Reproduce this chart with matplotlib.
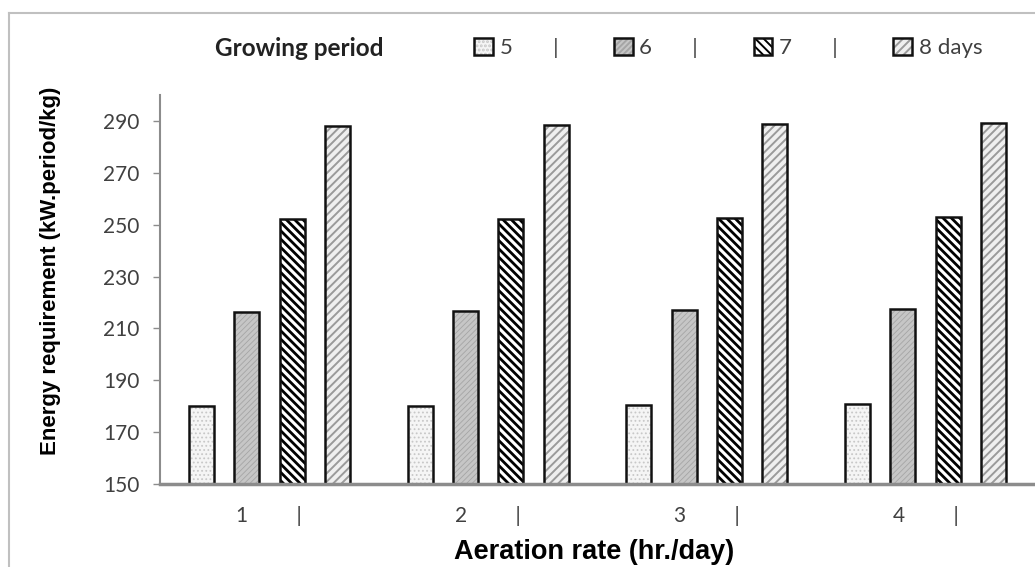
import numpy as np
import matplotlib.pyplot as plt
from matplotlib.lines import Line2D

# aeration rate (hr./day) groups and growing periods
rates = ['1', '2', '3', '4']
periods = ['5', '6', '7', '8 days']

# energy requirement (kW.period/kg)
days5 = [180.0, 180.2, 180.6, 180.9]
days6 = [216.5, 216.6, 217.0, 217.4]
days7 = [252.0, 252.2, 252.6, 253.0]
days8 = [288.2, 288.4, 288.8, 289.2]

yticks = [150, 170, 190, 210, 230, 250, 270, 290]

# face, hatch, hatch colour, hatch width
styles = [
    ('#f5f5f5', '....', '#c8c8c8', 0.8),
    ('#c6c6c6', '//////', '#a5a5a5', 0.6),
    ('white', '\\\\\\\\', 'black', 2.0),
    ('#efefef', '////', '#9a9a9a', 1.4),
]

W, H = 1035, 567
fig = plt.figure(figsize=(W / 100, H / 100), dpi=100)
ax = fig.add_axes([160 / W, 83 / H, 875 / W, 389 / H])

x = np.arange(len(rates))
offsets = np.array([-1.5, -0.5, 0.5, 1.5]) * 0.2075
width = 0.114

handles = []
for vals, off, (fc, hatch, hc, hlw) in zip([days5, days6, days7, days8], offsets, styles):
    plt.rcParams['hatch.linewidth'] = hlw
    b1 = ax.bar(x + off, vals, width, bottom=0, color=fc, hatch=hatch,
                edgecolor=hc, linewidth=0, zorder=2)
    for p in b1:
        if hasattr(p, 'set_hatch_linewidth'):
            p.set_hatch_linewidth(hlw)
    b2 = ax.bar(x + off, vals, width, fill=False, edgecolor='#111111',
                linewidth=1.8, zorder=3)
    handles.append((b1[0], b2[0]))

ax.set_xlim(-0.5, 3.5)
ax.set_ylim(150, 300)
ax.set_yticks(yticks)
ax.set_yticklabels([str(t) for t in yticks], family='Lato', fontsize=15, color='#404040')
ax.set_xticks(x)
ax.set_xticklabels([r + ' ' * 9 + '|' for r in rates], family='Lato', fontsize=15, color='#404040')

ax.tick_params(axis='x', length=0, pad=16)
ax.tick_params(axis='y', length=5, width=1, color='#8c8c8c', pad=10, direction='out')
for s in ['top', 'right']:
    ax.spines[s].set_visible(False)
ax.spines['left'].set_color('#8c8c8c')
ax.spines['left'].set_linewidth(1.5)
ax.spines['bottom'].set_color('#8c8c8c')
ax.spines['bottom'].set_linewidth(2.5)
ax.spines['bottom'].set_zorder(4)

fig.text(51 / W, 1 - 271 / H, 'Energy requirement (kW.period/kg)', rotation=90,
         ha='center', va='center', family='Liberation Sans', fontweight='bold', fontsize=16)
fig.text(594 / W, 1 - 552 / H, 'Aeration rate (hr./day)', ha='center', va='center',
         family='Liberation Sans', fontweight='bold', fontsize=19.5)

fig.text(215 / W, 1 - 48 / H, 'Growing period', ha='left', va='center',
         family='Lato', fontweight='bold', fontsize=17.5, color='#222222')

labels = [p + ' ' * 7 + '|' if i < 3 else p for i, p in enumerate(periods)]
leg = ax.legend(handles, labels, ncol=4, loc='center left', frameon=False,
                bbox_to_anchor=(474 / W, 1 - 48 / H), bbox_transform=fig.transFigure,
                prop={'family': 'Lato', 'size': 16}, handlelength=0.85, handleheight=0.85,
                handletextpad=0.3, columnspacing=2.5, borderaxespad=0, borderpad=0)
for t in leg.get_texts():
    t.set_color('#404040')

# light frame on the left and top
fig.add_artist(Line2D([9 / W, 9 / W], [0, 1 - 13 / H], transform=fig.transFigure,
                      color='#c0c0c0', lw=1.5))
fig.add_artist(Line2D([9 / W, 1], [1 - 13 / H, 1 - 13 / H], transform=fig.transFigure,
                      color='#c0c0c0', lw=1.5))

fig.savefig('out.png', dpi=100)
